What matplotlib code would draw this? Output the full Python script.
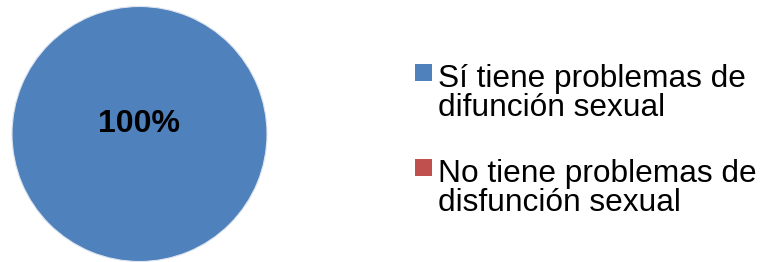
import matplotlib.pyplot as plt
from matplotlib.patches import Rectangle

plt.rcParams['font.family'] = ['Liberation Sans', 'DejaVu Sans']

categories = ["Sí tiene problemas de\ndifunción sexual",
              "No tiene problemas de\ndisfunción sexual"]
values = [100, 0]
colors = ["#4F81BD", "#C0504D"]

W, H = 763, 262
fig = plt.figure(figsize=(W / 100, H / 100), dpi=100)

# pie: center ~ (139.5, 134) px, radius ~127.5 px
cx, cy, r = 139.5, 134, 127.5
ax = fig.add_axes([(cx - r) / W, (H - cy - r) / H, 2 * r / W, 2 * r / H])
wedges, texts, autotexts = ax.pie(
    values, colors=colors, startangle=90, counterclock=False,
    wedgeprops=dict(edgecolor="#dde4ee", linewidth=0.8),
    autopct=lambda p: f"{p:.0f}%" if p > 0 else "",
    pctdistance=0.0,
    textprops=dict(fontsize=23, fontweight="bold", color="black"))
for w, v in zip(wedges, values):
    if v == 0:
        w.set_linewidth(0)
for t in autotexts:
    x, y = t.get_position()
    t.set_position((x, y + 0.08))
ax.set_xlim(-1, 1)
ax.set_ylim(-1, 1)
ax.set_aspect("equal")
ax.axis("off")

# legend, drawn by hand so the swatch sits next to the first line
fs = 22.8
line_gap = 29      # px between baselines in one entry
entry_gap = 95     # px between entries
for i, (lab, c) in enumerate(zip(categories, colors)):
    base = 87 + i * entry_gap
    fig.patches.append(Rectangle((415 / W, 1 - (base - 6) / H), 17 / W, 17 / H,
                                 transform=fig.transFigure, facecolor=c,
                                 edgecolor="none"))
    for j, line in enumerate(lab.split("\n")):
        fig.text(438 / W, 1 - (base + j * line_gap) / H, line, fontsize=fs,
                 va="baseline", ha="left", color="black")

fig.savefig("out.png", dpi=100)
